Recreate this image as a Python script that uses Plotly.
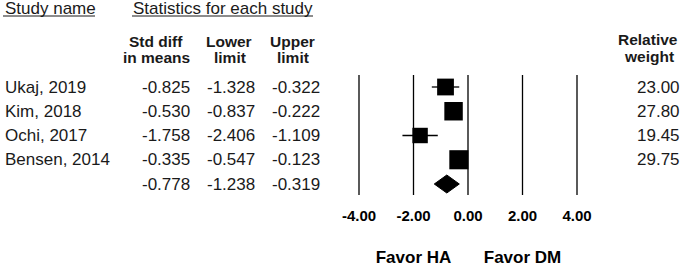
import plotly.graph_objects as go
import numpy as np

studies = ["Ukaj, 2019", "Kim, 2018", "Ochi, 2017", "Bensen, 2014"]
smd = [-0.825, -0.530, -1.758, -0.335]
lower = [-1.328, -0.837, -2.406, -0.547]
upper = [-0.322, -0.222, -1.109, -0.123]
weights = [23.00, 27.80, 19.45, 29.75]
summary = {"smd": -0.778, "lower": -1.238, "upper": -0.319}
xticks = [-4, -2, 0, 2, 4]
tick_labels = ["-4.00", "-2.00", "0.00", "2.00", "4.00"]
favor_labels = ["Favor HA", "Favor DM"]

W, H = 685, 269
FONT = "Liberation Sans, Arial, sans-serif"

# pixel mapping of axes
x0_px, unit_px = 468.0, 27.25
row0_px, row_px = 87.0, 24.25
xr = [-x0_px / unit_px, (W - x0_px) / unit_px]
yr = [(H - row0_px) / row_px, (0 - row0_px) / row_px]

def px(x):
    return x / W

def rowy(pixel_y):
    return (pixel_y - row0_px) / row_px

fig = go.Figure()

# vertical reference lines
vx, vy = [], []
for t in xticks:
    vx += [t, t, None]
    vy += [rowy(75), rowy(195), None]
fig.add_trace(go.Scatter(x=vx, y=vy, mode="lines", line=dict(color="black", width=1.3),
                         hoverinfo="skip", showlegend=False))

# CI whiskers
n = len(studies)
wx, wy = [], []
for i in range(n):
    wx += [lower[i], upper[i], None]
    wy += [i, i, None]
fig.add_trace(go.Scatter(x=wx, y=wy, mode="lines", line=dict(color="black", width=1.3),
                         hoverinfo="skip", showlegend=False))

# squares
sizes = [3.5 * np.sqrt(w) for w in weights]
fig.add_trace(go.Scatter(x=smd, y=list(range(n)), mode="markers",
                         marker=dict(symbol="square", size=sizes, color="black", opacity=1,
                                     line=dict(width=0)),
                         hoverinfo="skip", showlegend=False))

# summary diamond
hd = 9.0 / row_px
fig.add_trace(go.Scatter(
    x=[summary["lower"], summary["smd"], summary["upper"], summary["smd"], summary["lower"]],
    y=[n, n - hd, n, n + hd, n], mode="lines", fill="toself", fillcolor="black",
    line=dict(color="black", width=1), hoverinfo="skip", showlegend=False))

# tick labels
fig.add_trace(go.Scatter(x=xticks, y=[rowy(217)] * len(xticks), mode="text", text=tick_labels,
                         textfont=dict(family=FONT, size=15, color="black"),
                         texttemplate="<b>%{text}</b>", hoverinfo="skip", showlegend=False))

# favor labels
fig.add_trace(go.Scatter(x=[-2, 2], y=[rowy(259)] * 2, mode="text", text=favor_labels,
                         textfont=dict(family=FONT, size=17, color="black"),
                         texttemplate="<b>%{text}</b>", hoverinfo="skip", showlegend=False))

ann = []
def A(text, x, y, xanchor="left", bold=False, size=17):
    ann.append(dict(text=f"<b>{text}</b>" if bold else text, x=px(x), y=y,
                    xref="paper", yref="y", xanchor=xanchor, yanchor="middle",
                    showarrow=False, font=dict(family=FONT, size=size, color="#1a1a1a")))

# headers
A("Study name", 3, rowy(8))
A("Statistics for each study", 223, rowy(8), xanchor="center")
A("Std diff", 156, rowy(41), xanchor="center", bold=True, size=15.5)
A("in means", 156, rowy(57), xanchor="center", bold=True, size=15.5)
A("Lower", 229, rowy(41), xanchor="center", bold=True, size=15.5)
A("limit", 230, rowy(57), xanchor="center", bold=True, size=15.5)
A("Upper", 292, rowy(41), xanchor="center", bold=True, size=15.5)
A("limit", 293, rowy(57), xanchor="center", bold=True, size=15.5)
A("Relative", 648, rowy(39), xanchor="center", bold=True, size=15.5)
A("weight", 649, rowy(56), xanchor="center", bold=True, size=15.5)

for i in range(n):
    A(studies[i], 3, i)
    A(f"{smd[i]:.3f}", 192, i, xanchor="right")
    A(f"{lower[i]:.3f}", 257, i, xanchor="right")
    A(f"{upper[i]:.3f}", 322, i, xanchor="right")
    A(f"{weights[i]:.2f}", 682, i, xanchor="right")
A(f"{summary['smd']:.3f}", 192, n, xanchor="right")
A(f"{summary['lower']:.3f}", 257, n, xanchor="right")
A(f"{summary['upper']:.3f}", 322, n, xanchor="right")

shapes = [
    dict(type="line", xref="paper", yref="y", x0=px(3), x1=px(95), y0=rowy(16), y1=rowy(16),
         line=dict(color="#1a1a1a", width=1.2)),
    dict(type="line", xref="paper", yref="y", x0=px(132), x1=px(313), y0=rowy(16), y1=rowy(16),
         line=dict(color="#1a1a1a", width=1.2)),
]

fig.update_layout(
    width=W, height=H, margin=dict(l=0, r=0, t=0, b=0),
    paper_bgcolor="white", plot_bgcolor="white",
    xaxis=dict(range=xr, visible=False, fixedrange=True),
    yaxis=dict(range=yr, visible=False, fixedrange=True),
    annotations=ann, shapes=shapes, showlegend=False,
)
fig.write_html("out.html", config={"displayModeBar": False},
               post_script="document.body.style.margin='0px';document.body.style.overflow='hidden';")
